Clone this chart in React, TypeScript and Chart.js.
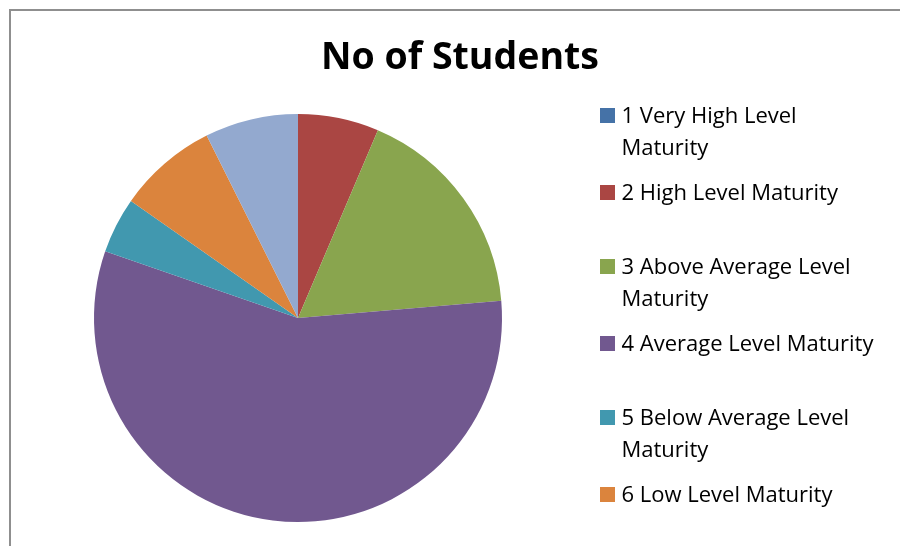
import React, { useEffect, useRef } from "react";
import { Chart, registerables } from "chart.js";

Chart.register(...registerables);

const title = "No of Students";
const categories = [
  "1 Very High Level\nMaturity",
  "2 High Level Maturity",
  "3 Above Average Level\nMaturity",
  "4 Average Level Maturity",
  "5 Below Average Level\nMaturity",
  "6 Low Level Maturity",
  "7 Very Low Level Maturity",
];
const students = [0, 13, 35, 115, 9, 16, 15];
const colors = ["#4572A7", "#AA4643", "#89A54E", "#71588F", "#4198AF", "#DB843D", "#93A9CF"];

const FONT = "'Open Sans', 'Noto Sans', sans-serif";

export default function App() {
  const ref = useRef<HTMLCanvasElement | null>(null);

  useEffect(() => {
    if (!ref.current) return;
    const chart = new Chart(ref.current, {
      type: "pie",
      data: {
        labels: categories.map((c) => c.replace("\n", " ")),
        datasets: [
          {
            data: students,
            backgroundColor: colors,
            borderWidth: 0,
            hoverOffset: 0,
            offset: 0,
          },
        ],
      },
      options: {
        responsive: false,
        animation: false,
        devicePixelRatio: 1,
        layout: { padding: { left: 84, right: 408, bottom: 47, top: 105 } },
        plugins: {
          legend: { display: false },
          tooltip: { enabled: false },
          title: { display: false },
        },
      },
    });
    return () => chart.destroy();
  }, []);

  let y = 0;
  const tops = categories.map((c) => {
    const t = y;
    y += c.includes("\n") ? 77 : 74.2;
    return t;
  });

  return (
    <div
      style={{
        position: "fixed",
        left: 0,
        top: 0,
        width: 900,
        height: 546,
        overflow: "hidden",
        background: "#fff",
      }}
    >
      <div
        style={{
          position: "absolute",
          left: 9,
          top: 9,
          width: 902,
          height: 560,
          borderLeft: "2px solid #8f8f8f",
          borderTop: "2px solid #8f8f8f",
          boxSizing: "border-box",
        }}
      />
      <canvas
        ref={ref}
        width={902}
        height={560}
        style={{ position: "absolute", left: 9, top: 9, width: 902, height: 560 }}
      />
      <div
        style={{
          position: "absolute",
          left: 9,
          width: 902,
          top: 37,
          textAlign: "center",
          font: `bold 37.5px ${FONT}`,
          lineHeight: "36px",
          color: "#000",
          whiteSpace: "nowrap",
        }}
      >
        {title}
      </div>
      <div style={{ position: "absolute", left: 600, top: 97.6, width: 300 }}>
        {categories.map((c, i) => (
          <div key={i} style={{ position: "absolute", left: 0, top: tops[i], width: 300 }}>
            <div
              style={{
                position: "absolute",
                left: 0,
                top: 10.5,
                width: 14.5,
                height: 14.5,
                background: colors[i],
              }}
            />
            <div
              style={{
                position: "absolute",
                left: 21.5,
                top: 0,
                font: `22px ${FONT}`,
                lineHeight: "32px",
                color: "#000",
                whiteSpace: "pre-line",
              }}
            >
              {c}
            </div>
          </div>
        ))}
      </div>
    </div>
  );
}
